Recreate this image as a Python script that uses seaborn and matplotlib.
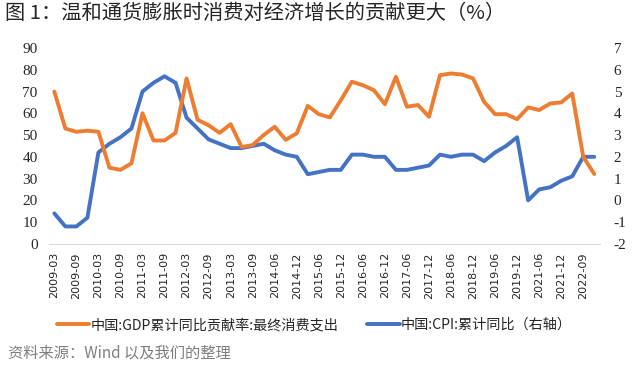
import pandas as pd
import seaborn as sns
import matplotlib.pyplot as plt

# 季度日期（2014-03、2020年、2022-06 缺失）
dates = (['2009-03', '2009-06', '2009-09', '2009-12',
          '2010-03', '2010-06', '2010-09', '2010-12',
          '2011-03', '2011-06', '2011-09', '2011-12',
          '2012-03', '2012-06', '2012-09', '2012-12',
          '2013-03', '2013-06', '2013-09', '2013-12',
          '2014-06', '2014-09', '2014-12',
          '2015-03', '2015-06', '2015-09', '2015-12',
          '2016-03', '2016-06', '2016-09', '2016-12',
          '2017-03', '2017-06', '2017-09', '2017-12',
          '2018-03', '2018-06', '2018-09', '2018-12',
          '2019-03', '2019-06', '2019-09', '2019-12',
          '2021-03', '2021-06', '2021-09', '2021-12',
          '2022-03', '2022-09', '2022-12'])

# 中国:GDP累计同比贡献率:最终消费支出 (左轴)
consumption = [70, 53, 51.5, 52, 51.5, 35, 34, 37, 60, 47.5,
               47.5, 51, 76, 57, 54.5, 51, 55, 44.5, 45.4, 50,
               53.8, 47.8, 50.8, 63.4, 59.6, 58.1, 66, 74.5, 72.9, 70.6,
               64.2, 76.8, 63, 63.8, 58.4, 77.5, 78.3, 77.8, 76, 65.3,
               59.6, 59.6, 57.3, 62.7, 61.5, 64.5, 65, 69.1, 40, 32.1]

# 中国:CPI:累计同比 (右轴)
cpi = [-0.6, -1.2, -1.2, -0.8, 2.2, 2.6, 2.9, 3.3, 5.0, 5.4,
       5.7, 5.4, 3.8, 3.3, 2.8, 2.6, 2.4, 2.4, 2.5, 2.6,
       2.3, 2.1, 2.0, 1.2, 1.3, 1.4, 1.4, 2.1, 2.1, 2.0,
       2.0, 1.4, 1.4, 1.5, 1.6, 2.1, 2.0, 2.1, 2.1, 1.8,
       2.2, 2.5, 2.9, 0.0, 0.5, 0.6, 0.9, 1.1, 2.0, 2.0]

df = pd.DataFrame({'pos': range(len(dates)), 'date': dates,
                   'consumption': consumption, 'cpi': cpi})

sns.set_style('white')
plt.rcParams['font.family'] = ['Noto Sans CJK SC', 'DejaVu Sans']
plt.rcParams['axes.unicode_minus'] = False

orange = '#ED7D31'
blue = '#4472C4'

fig = plt.figure(figsize=(6.34, 3.81), dpi=100)
ax = fig.add_axes([0.077, 0.36, 0.869, 0.514])
ax2 = ax.twinx()

sns.lineplot(data=df, x='pos', y='consumption', ax=ax, color=orange, lw=2.8,
             label='中国:GDP累计同比贡献率:最终消费支出', legend=False)
sns.lineplot(data=df, x='pos', y='cpi', ax=ax2, color=blue, lw=2.8,
             label='中国:CPI:累计同比（右轴）', legend=False)

ax.set_xlim(-0.5, len(dates) - 0.5)
ax.set_ylim(0, 90)
ax.set_yticks(range(0, 91, 10))
ax2.set_ylim(-2, 7)
ax2.set_yticks(range(-2, 8))

ax.set_xticks(df['pos'][::2])
ax.set_xticklabels(df['date'][::2], rotation=90, fontsize=8, family='DejaVu Sans')

for a in (ax, ax2):
    a.set_xlabel('')
    a.set_ylabel('')
    for s in a.spines.values():
        s.set_visible(False)
    a.tick_params(length=0)
    for lab in a.get_yticklabels():
        lab.set_family('Liberation Serif')
        lab.set_fontsize(11)
ax.spines['bottom'].set_visible(True)
ax.spines['bottom'].set_color('#D9D9D9')
ax.tick_params(axis='y', pad=8)
ax2.tick_params(axis='y', pad=10)
ax.tick_params(axis='x', pad=6)

# 让橙线画在蓝线之上
ax.set_zorder(ax2.get_zorder() + 1)
ax.patch.set_visible(False)

h1, l1 = ax.get_legend_handles_labels()
h2, l2 = ax2.get_legend_handles_labels()
fig.legend(h1 + h2, l1 + l2, loc='center', bbox_to_anchor=(0.496, 0.147),
           ncol=2, frameon=False, fontsize=10.2, handlelength=2.3,
           handletextpad=0.1, columnspacing=2.0)

fig.text(0.008, 0.965, '图 1：温和通货膨胀时消费对经济增长的贡献更大（%）',
         fontsize=14.6, va='center', ha='left')
fig.text(0.012, 0.073, '资料来源：Wind 以及我们的整理', fontsize=11,
         color='#7F7F7F', va='center', ha='left', style='italic')

fig.savefig('out.png', dpi=100)
